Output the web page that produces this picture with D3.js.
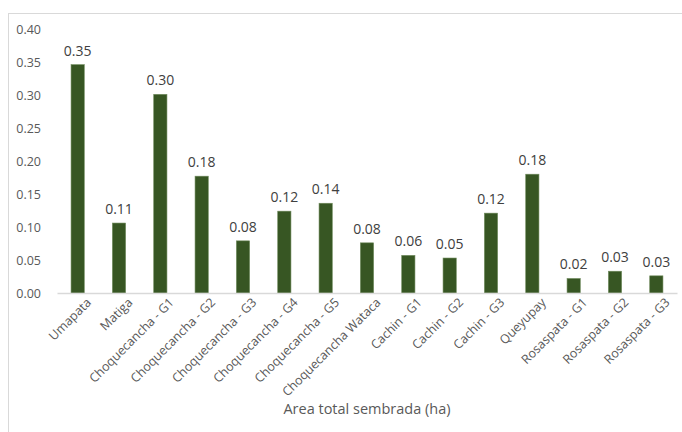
<!DOCTYPE html>
<html>
<head>
<meta charset="utf-8">
<script src="https://cdn.jsdelivr.net/npm/d3@7"></script>
<style>
  body { margin: 0; background: #fff; }
  svg { display: block; font-family: "Open Sans", sans-serif; }
</style>
</head>
<body>
<svg></svg>
<script>
var categories = ["Umapata", "Matiga", "Choquecancha - G1", "Choquecancha - G2", "Choquecancha - G3",
  "Choquecancha - G4", "Choquecancha - G5", "Choquecancha Wataca", "Cachin - G1", "Cachin - G2",
  "Cachin - G3", "Queyupay", "Rosaspata - G1", "Rosaspata - G2", "Rosaspata - G3"];
var values = [0.346, 0.106, 0.301, 0.177, 0.079, 0.124, 0.136, 0.076, 0.057, 0.053, 0.121, 0.180, 0.022, 0.033, 0.026];
var yTicks = [0, 0.05, 0.10, 0.15, 0.20, 0.25, 0.30, 0.35, 0.40];
var xTitle = "Area total sembrada (ha)";

var width = 682, height = 432;
var margin = {left: 57, right: 5, top: 29, bottom: 139};

var svg = d3.select("svg").attr("width", width).attr("height", height);

// chart frame
svg.append("rect")
  .attr("x", 8.5).attr("y", 13.5)
  .attr("width", 700).attr("height", 500)
  .attr("fill", "none").attr("stroke", "#d9d9d9").attr("stroke-width", 1);

var x = d3.scaleBand().domain(categories)
  .range([margin.left, width - margin.right])
  .paddingInner(0.68).paddingOuter(0.34);

var y = d3.scaleLinear().domain([0, 0.4])
  .range([height - margin.bottom, margin.top]);

// y axis labels only
var yAxis = svg.append("g")
  .attr("transform", "translate(" + (margin.left - 13) + ",0)")
  .call(d3.axisLeft(y).tickValues(yTicks).tickFormat(d3.format(".2f")).tickSize(0));
yAxis.select(".domain").remove();
yAxis.selectAll("text")
  .attr("fill", "#595959").attr("font-size", 12.5).attr("font-family", "Open Sans");

// bars
svg.append("g").selectAll("rect")
  .data(values)
  .enter().append("rect")
  .attr("x", function(d, i) { return x(categories[i]); })
  .attr("y", function(d) { return y(d); })
  .attr("width", x.bandwidth())
  .attr("height", function(d) { return y(0) - y(d); })
  .attr("fill", "#375623")
  .attr("stroke", "#6f8a5c").attr("stroke-width", 0.6);

// value labels
svg.append("g").selectAll("text")
  .data(values)
  .enter().append("text")
  .attr("x", function(d, i) { return x(categories[i]) + x.bandwidth() / 2; })
  .attr("y", function(d) { return y(d) - 9; })
  .attr("text-anchor", "middle")
  .attr("fill", "#404040").attr("font-size", 14)
  .text(function(d) { return d3.format(".2f")(d); });

// x axis
var xAxis = svg.append("g")
  .attr("transform", "translate(0," + y(0) + ")")
  .call(d3.axisBottom(x).tickSize(0));
xAxis.select(".domain").attr("stroke", "#d9d9d9").attr("stroke-width", 1.5);
xAxis.selectAll("text")
  .attr("fill", "#595959").attr("font-size", 12.5).attr("font-family", "Open Sans")
  .attr("text-anchor", "end")
  .attr("transform", "translate(6,2) rotate(-45)")
  .attr("dy", "0.7em");

// axis title
svg.append("text")
  .attr("x", 367).attr("y", 414)
  .attr("text-anchor", "middle")
  .attr("fill", "#595959").attr("font-size", 14.5)
  .text(xTitle);
</script>
</body>
</html>
